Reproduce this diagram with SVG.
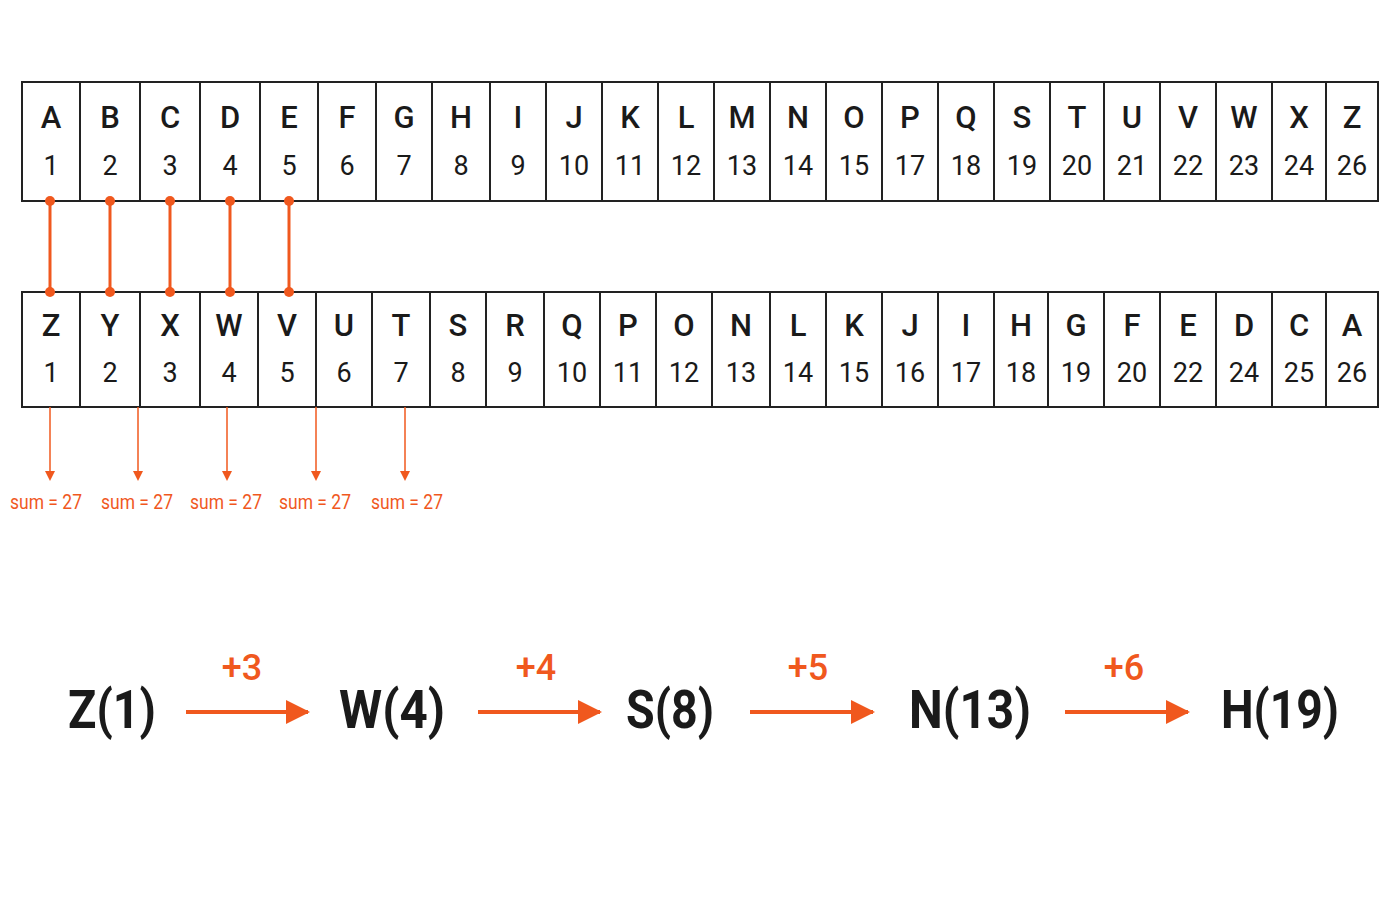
<svg xmlns="http://www.w3.org/2000/svg" width="1400" height="900" viewBox="0 0 1400 900">
<style>
.cell{fill:#fff;stroke:#222;stroke-width:2}
.l{font-family:Roboto,"Liberation Sans",sans-serif;font-size:31px;font-weight:500;fill:#1a1a1a;text-anchor:middle}
.n{font-family:Roboto,"Liberation Sans",sans-serif;font-size:27px;fill:#1a1a1a;text-anchor:middle}
.o{stroke:#f0581e;stroke-width:3;fill:none}
.dot{fill:#f0581e}
.s{font-family:Roboto,"Liberation Sans",sans-serif;font-size:21px;fill:#f0581e;text-anchor:middle}
.big{font-family:Roboto,"Liberation Sans",sans-serif;font-size:54px;font-weight:700;fill:#1a1a1a;text-anchor:middle}
.p{font-family:Roboto,"Liberation Sans",sans-serif;font-size:36px;font-weight:500;fill:#f0581e;text-anchor:middle}
</style>
<defs>
<marker id="ah" markerWidth="10" markerHeight="10" refX="8" refY="5" orient="auto" markerUnits="userSpaceOnUse"><path d="M0,0 L10,5 L0,10 Z" fill="#f0581e"/></marker>
<marker id="ab" markerWidth="24" markerHeight="24" refX="22" refY="12" orient="auto" markerUnits="userSpaceOnUse"><path d="M0,0 L24,12 L0,24 Z" fill="#f0581e"/></marker>
</defs>
<g id="top-row">
<rect class="cell" x="22" y="82" width="1356" height="119"/>
<g stroke="#222" stroke-width="2">
<line x1="80" y1="82" x2="80" y2="201"/><line x1="140" y1="82" x2="140" y2="201"/><line x1="200" y1="82" x2="200" y2="201"/><line x1="260" y1="82" x2="260" y2="201"/><line x1="318" y1="82" x2="318" y2="201"/><line x1="376" y1="82" x2="376" y2="201"/><line x1="432" y1="82" x2="432" y2="201"/><line x1="490" y1="82" x2="490" y2="201"/><line x1="546" y1="82" x2="546" y2="201"/><line x1="602" y1="82" x2="602" y2="201"/><line x1="658" y1="82" x2="658" y2="201"/><line x1="714" y1="82" x2="714" y2="201"/><line x1="770" y1="82" x2="770" y2="201"/><line x1="826" y1="82" x2="826" y2="201"/><line x1="882" y1="82" x2="882" y2="201"/><line x1="938" y1="82" x2="938" y2="201"/><line x1="994" y1="82" x2="994" y2="201"/><line x1="1050" y1="82" x2="1050" y2="201"/><line x1="1104" y1="82" x2="1104" y2="201"/><line x1="1160" y1="82" x2="1160" y2="201"/><line x1="1216" y1="82" x2="1216" y2="201"/><line x1="1272" y1="82" x2="1272" y2="201"/><line x1="1326" y1="82" x2="1326" y2="201"/>
</g>
<g class="l">
<text x="51" y="128">A</text><text x="110" y="128">B</text><text x="170" y="128">C</text><text x="230" y="128">D</text><text x="289" y="128">E</text><text x="347" y="128">F</text><text x="404" y="128">G</text><text x="461" y="128">H</text><text x="518" y="128">I</text><text x="574" y="128">J</text><text x="630" y="128">K</text><text x="686" y="128">L</text><text x="742" y="128">M</text><text x="798" y="128">N</text><text x="854" y="128">O</text><text x="910" y="128">P</text><text x="966" y="128">Q</text><text x="1022" y="128">S</text><text x="1077" y="128">T</text><text x="1132" y="128">U</text><text x="1188" y="128">V</text><text x="1244" y="128">W</text><text x="1299" y="128">X</text><text x="1352" y="128">Z</text>
</g>
<g class="n">
<text x="51" y="175">1</text><text x="110" y="175">2</text><text x="170" y="175">3</text><text x="230" y="175">4</text><text x="289" y="175">5</text><text x="347" y="175">6</text><text x="404" y="175">7</text><text x="461" y="175">8</text><text x="518" y="175">9</text><text x="574" y="175">10</text><text x="630" y="175">11</text><text x="686" y="175">12</text><text x="742" y="175">13</text><text x="798" y="175">14</text><text x="854" y="175">15</text><text x="910" y="175">17</text><text x="966" y="175">18</text><text x="1022" y="175">19</text><text x="1077" y="175">20</text><text x="1132" y="175">21</text><text x="1188" y="175">22</text><text x="1244" y="175">23</text><text x="1299" y="175">24</text><text x="1352" y="175">26</text>
</g>
</g>
<g id="bottom-row">
<rect class="cell" x="22" y="292" width="1356" height="115"/>
<g stroke="#222" stroke-width="2">
<line x1="80" y1="292" x2="80" y2="407"/><line x1="140" y1="292" x2="140" y2="407"/><line x1="200" y1="292" x2="200" y2="407"/><line x1="258" y1="292" x2="258" y2="407"/><line x1="316" y1="292" x2="316" y2="407"/><line x1="372" y1="292" x2="372" y2="407"/><line x1="430" y1="292" x2="430" y2="407"/><line x1="486" y1="292" x2="486" y2="407"/><line x1="544" y1="292" x2="544" y2="407"/><line x1="600" y1="292" x2="600" y2="407"/><line x1="656" y1="292" x2="656" y2="407"/><line x1="712" y1="292" x2="712" y2="407"/><line x1="770" y1="292" x2="770" y2="407"/><line x1="826" y1="292" x2="826" y2="407"/><line x1="882" y1="292" x2="882" y2="407"/><line x1="938" y1="292" x2="938" y2="407"/><line x1="994" y1="292" x2="994" y2="407"/><line x1="1048" y1="292" x2="1048" y2="407"/><line x1="1104" y1="292" x2="1104" y2="407"/><line x1="1160" y1="292" x2="1160" y2="407"/><line x1="1216" y1="292" x2="1216" y2="407"/><line x1="1272" y1="292" x2="1272" y2="407"/><line x1="1326" y1="292" x2="1326" y2="407"/>
</g>
<g class="l">
<text x="51" y="336">Z</text><text x="110" y="336">Y</text><text x="170" y="336">X</text><text x="229" y="336">W</text><text x="287" y="336">V</text><text x="344" y="336">U</text><text x="401" y="336">T</text><text x="458" y="336">S</text><text x="515" y="336">R</text><text x="572" y="336">Q</text><text x="628" y="336">P</text><text x="684" y="336">O</text><text x="741" y="336">N</text><text x="798" y="336">L</text><text x="854" y="336">K</text><text x="910" y="336">J</text><text x="966" y="336">I</text><text x="1021" y="336">H</text><text x="1076" y="336">G</text><text x="1132" y="336">F</text><text x="1188" y="336">E</text><text x="1244" y="336">D</text><text x="1299" y="336">C</text><text x="1352" y="336">A</text>
</g>
<g class="n">
<text x="51" y="382">1</text><text x="110" y="382">2</text><text x="170" y="382">3</text><text x="229" y="382">4</text><text x="287" y="382">5</text><text x="344" y="382">6</text><text x="401" y="382">7</text><text x="458" y="382">8</text><text x="515" y="382">9</text><text x="572" y="382">10</text><text x="628" y="382">11</text><text x="684" y="382">12</text><text x="741" y="382">13</text><text x="798" y="382">14</text><text x="854" y="382">15</text><text x="910" y="382">16</text><text x="966" y="382">17</text><text x="1021" y="382">18</text><text x="1076" y="382">19</text><text x="1132" y="382">20</text><text x="1188" y="382">22</text><text x="1244" y="382">24</text><text x="1299" y="382">25</text><text x="1352" y="382">26</text>
</g>
</g>
<g id="connectors">
<g class="o">
<line x1="50" y1="201" x2="50" y2="292"/><line x1="110" y1="201" x2="110" y2="292"/><line x1="170" y1="201" x2="170" y2="292"/><line x1="230" y1="201" x2="230" y2="292"/><line x1="289" y1="201" x2="289" y2="292"/>
</g>
<g class="dot">
<circle cx="50" cy="201" r="5"/><circle cx="110" cy="201" r="5"/><circle cx="170" cy="201" r="5"/><circle cx="230" cy="201" r="5"/><circle cx="289" cy="201" r="5"/>
<circle cx="50" cy="292" r="5"/><circle cx="110" cy="292" r="5"/><circle cx="170" cy="292" r="5"/><circle cx="230" cy="292" r="5"/><circle cx="289" cy="292" r="5"/>
</g>
<g stroke="#f0581e" stroke-width="1.5">
<line x1="50" y1="407" x2="50" y2="479" marker-end="url(#ah)"/><line x1="138" y1="407" x2="138" y2="479" marker-end="url(#ah)"/><line x1="227" y1="407" x2="227" y2="479" marker-end="url(#ah)"/><line x1="316" y1="407" x2="316" y2="479" marker-end="url(#ah)"/><line x1="405" y1="407" x2="405" y2="479" marker-end="url(#ah)"/>
</g>
<g stroke="#f0581e" stroke-width="4">
<line x1="186" y1="712" x2="308" y2="712" marker-end="url(#ab)"/><line x1="478" y1="712" x2="600" y2="712" marker-end="url(#ab)"/><line x1="750" y1="712" x2="873" y2="712" marker-end="url(#ab)"/><line x1="1065" y1="712" x2="1188" y2="712" marker-end="url(#ab)"/>
</g>
</g>
<g id="sums" class="s">
<text x="46" y="509" textLength="72" lengthAdjust="spacingAndGlyphs">sum = 27</text><text x="137" y="509" textLength="72" lengthAdjust="spacingAndGlyphs">sum = 27</text><text x="226" y="509" textLength="72" lengthAdjust="spacingAndGlyphs">sum = 27</text><text x="315" y="509" textLength="72" lengthAdjust="spacingAndGlyphs">sum = 27</text><text x="407" y="509" textLength="72" lengthAdjust="spacingAndGlyphs">sum = 27</text>
</g>
<g id="sequence">
<text class="big" x="112" y="728" textLength="88" lengthAdjust="spacingAndGlyphs">Z(1)</text>
<text class="big" x="392" y="728" textLength="106" lengthAdjust="spacingAndGlyphs">W(4)</text>
<text class="big" x="670" y="728" textLength="88" lengthAdjust="spacingAndGlyphs">S(8)</text>
<text class="big" x="970" y="728" textLength="122" lengthAdjust="spacingAndGlyphs">N(13)</text>
<text class="big" x="1280" y="728" textLength="118" lengthAdjust="spacingAndGlyphs">H(19)</text>
<text class="p" x="242" y="680">+3</text>
<text class="p" x="536" y="680">+4</text>
<text class="p" x="808" y="680">+5</text>
<text class="p" x="1124" y="680">+6</text>
</g>
</svg>
